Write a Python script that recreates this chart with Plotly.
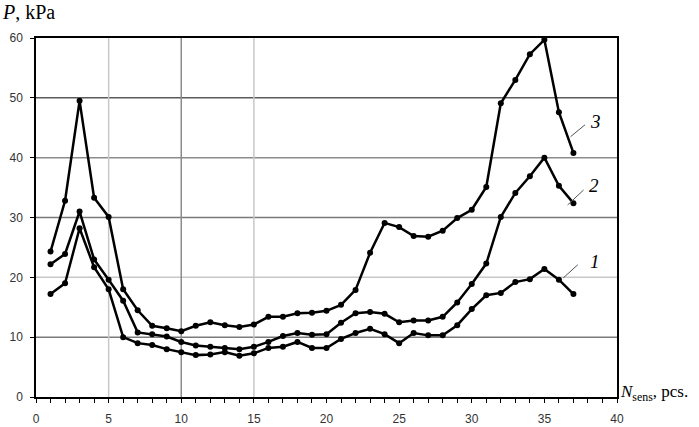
import plotly.graph_objects as go

# sensor number
n_sens = list(range(1, 38))

# pressure, kPa (curves 1, 2, 3)
p_curve1 = [17.2, 19.0, 28.2, 21.7, 18.0, 10.0, 9.0, 8.7, 8.0, 7.5,
            7.0, 7.1, 7.5, 6.9, 7.3, 8.2, 8.4, 9.2, 8.2, 8.2,
            9.7, 10.7, 11.4, 10.5, 9.0, 10.7, 10.3, 10.3, 12.0, 14.7,
            17.0, 17.4, 19.2, 19.7, 21.4, 19.6, 17.2]
p_curve2 = [22.2, 23.9, 31.0, 23.0, 19.6, 16.1, 10.8, 10.5, 10.1, 9.2,
            8.6, 8.4, 8.2, 8.0, 8.4, 9.2, 10.2, 10.7, 10.4, 10.5,
            12.4, 14.0, 14.2, 13.9, 12.5, 12.8, 12.8, 13.4, 15.8, 18.9,
            22.3, 30.1, 34.1, 36.9, 40.0, 35.3, 32.4]
p_curve3 = [24.3, 32.8, 49.5, 33.3, 30.1, 18.0, 14.5, 11.9, 11.5, 11.0,
            11.9, 12.5, 12.0, 11.7, 12.1, 13.4, 13.4, 14.0, 14.1, 14.4,
            15.4, 17.9, 24.1, 29.1, 28.4, 26.9, 26.8, 27.8, 29.9, 31.3,
            35.1, 49.1, 53.0, 57.3, 59.7, 47.6, 40.8]

# horizontal / vertical grid lines and their shades
h_grid = [10, 20, 30, 40, 50]
h_grid_colors = ["#7a7a7a", "#c8c8c8", "#7a7a7a", "#8c8c8c", "#5a5a5a"]
v_grid = [5, 10, 15]
v_grid_colors = ["#c8c8c8", "#8c8c8c", "#c8c8c8"]

# curve labels: text, leader start, leader end, text position
curve_labels = [
    ("1", (36.3, 19.9), (37.3, 22.1), (38.5, 22.6)),
    ("2", (36.6, 32.1), (37.7, 34.6), (38.4, 35.4)),
    ("3", (36.8, 43.5), (37.8, 45.5), (38.5, 46.1)),
]

fig = go.Figure()

for y in (p_curve1, p_curve2, p_curve3):
    fig.add_trace(go.Scatter(x=n_sens, y=y, mode='lines+markers',
                             line=dict(color='black', width=2.5),
                             marker=dict(color='black', size=6),
                             showlegend=False))

for v, c in zip(h_grid, h_grid_colors):
    fig.add_hline(y=v, line=dict(color=c, width=1.5), layer='below')
for v, c in zip(v_grid, v_grid_colors):
    fig.add_vline(x=v, line=dict(color=c, width=1.5), layer='below')

for txt, p0, p1, pt in curve_labels:
    fig.add_shape(type='line', x0=p0[0], y0=p0[1], x1=p1[0], y1=p1[1],
                  line=dict(color='#555', width=1))
    fig.add_annotation(x=pt[0], y=pt[1], text='<i>%s</i>' % txt, showarrow=False,
                       xanchor='center', yanchor='middle',
                       font=dict(family='Liberation Serif', size=19, color='black'))

fig.add_annotation(xref='paper', yref='paper', x=-0.062, y=1.072,
                   xanchor='left', yanchor='middle', showarrow=False,
                   text='<i>P</i>, kPa',
                   font=dict(family='Liberation Serif', size=20, color='black'))
fig.add_annotation(xref='paper', yref='paper', x=1.002, y=0.012,
                   xanchor='left', yanchor='middle', showarrow=False,
                   text='<i>N</i><sub>sens</sub>, pcs.',
                   font=dict(family='Liberation Serif', size=17, color='black'))

fig.update_layout(
    width=699, height=427,
    margin=dict(l=36, r=82, t=38, b=30, autoexpand=False),
    plot_bgcolor='white', paper_bgcolor='white',
    xaxis=dict(range=[0, 40], dtick=5, showgrid=False, zeroline=False, automargin=False,
               showline=True, linecolor='black', linewidth=1.5, mirror=True,
               ticks='outside', ticklen=4, tickcolor='black', ticklabelstandoff=6,
               minor=dict(dtick=1, ticks='outside', ticklen=4, tickcolor='black', showgrid=False),
               tickfont=dict(family='Liberation Sans', size=12, color='#333')),
    yaxis=dict(range=[0, 60], dtick=10, showgrid=False, zeroline=False, automargin=False,
               showline=True, linecolor='black', linewidth=1.5, mirror=True,
               ticks='outside', ticklen=4, tickcolor='black', ticklabelstandoff=5,
               tickfont=dict(family='Liberation Sans', size=12, color='#333')),
)

fig.write_html("out.html", config={'displayModeBar': False},
               post_script="document.body.style.margin='0';")
